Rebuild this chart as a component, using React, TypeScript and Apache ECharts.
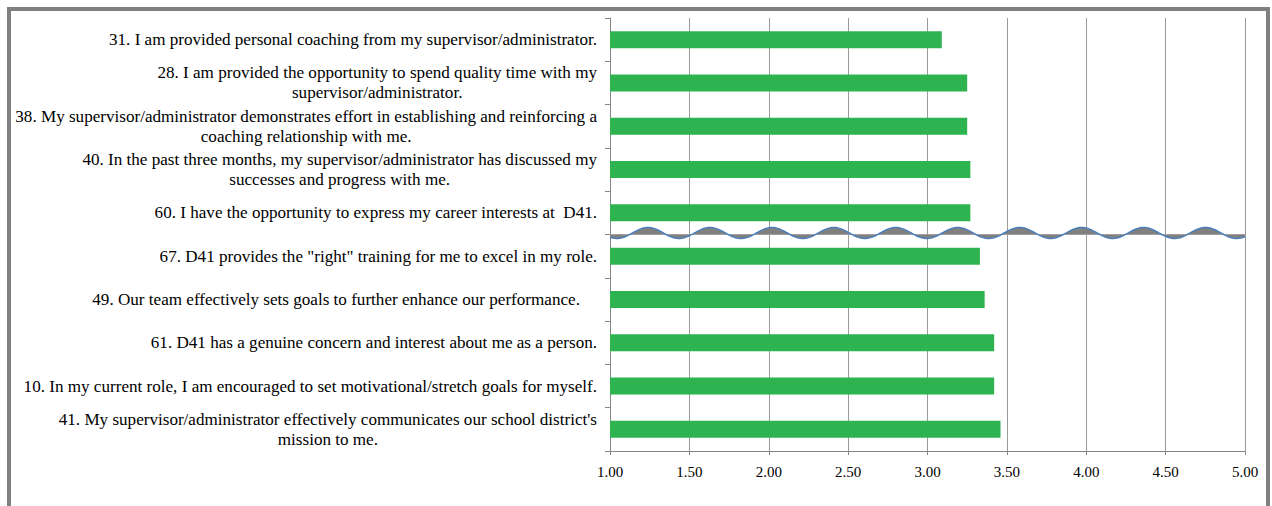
import React, { useEffect, useRef } from "react";
import * as echarts from "echarts";

const categories: string[] = [
  "31. I am provided personal coaching from my supervisor/administrator.",
  "28. I am provided the opportunity to spend quality time with my\nsupervisor/administrator.",
  "38. My supervisor/administrator demonstrates effort in establishing and reinforcing a\ncoaching relationship with me.",
  "40. In the past three months, my supervisor/administrator has discussed my\nsuccesses and progress with me.",
  "60. I have the opportunity to express my career interests at  D41.",
  '67. D41 provides the "right" training for me to excel in my role.',
  "49. Our team effectively sets goals to further enhance our performance.    ",
  "61. D41 has a genuine concern and interest about me as a person.",
  "10. In my current role, I am encouraged to set motivational/stretch goals for myself.",
  "41. My supervisor/administrator effectively communicates our school district's\nmission to me.",
];

const scores: number[] = [3.09, 3.25, 3.25, 3.27, 3.27, 3.33, 3.36, 3.42, 3.42, 3.46];

const xTicks = { min: 1, max: 5, interval: 0.5 };

// position of the decorative wave break (between category index 4 and 5)
const breakAfterIndex = 4;

const FONT = "'Liberation Serif', 'Times New Roman', serif";

export default function App() {
  const ref = useRef<HTMLDivElement>(null);

  useEffect(() => {
    if (!ref.current) return;
    const chart = echarts.init(ref.current, undefined, { renderer: "svg" });

    const option: any = {
      animation: false,
      backgroundColor: "#ffffff",
      graphic: [
        {
          type: "rect",
          shape: { x: 9, y: 9, width: 1259, height: 540 },
          style: { fill: "none", stroke: "#808080", lineWidth: 4 },
          silent: true,
          z: 100,
        },
      ],
      grid: { left: 610, right: 27, top: 18, bottom: 55, containLabel: false },
      xAxis: {
        type: "value",
        min: xTicks.min,
        max: xTicks.max,
        interval: xTicks.interval,
        axisLine: { show: true, lineStyle: { color: "#868686", width: 1 } },
        axisTick: { show: true, length: 4, lineStyle: { color: "#868686" } },
        splitLine: { show: true, lineStyle: { color: "#9a9a9a", width: 1 } },
        axisLabel: {
          formatter: (v: number) => v.toFixed(2),
          color: "#000",
          fontFamily: FONT,
          fontSize: 15,
          margin: 13,
        },
      },
      yAxis: {
        type: "category",
        inverse: true,
        data: categories,
        axisLine: { show: true, lineStyle: { color: "#868686", width: 1 } },
        axisTick: { show: true, length: 5, lineStyle: { color: "#868686" } },
        splitLine: { show: false },
        axisLabel: {
          margin: 13,
          align: "right",
          color: "#000",
          fontFamily: FONT,
          fontSize: 17.1,
          lineHeight: 20,
          formatter: (v: string) =>
            v
              .split("\n")
              .map((l) => "{c|" + l + "}")
              .join("\n"),
          rich: {
            c: {
              align: "center",
              color: "#000",
              fontFamily: FONT,
              fontSize: 17.1,
              lineHeight: 20,
            },
          },
        },
      },
      series: [
        {
          type: "bar",
          data: scores,
          barWidth: 17,
          itemStyle: { color: "#2db350" },
          z: 2,
        },
        {
          type: "custom",
          coordinateSystem: "cartesian2d",
          data: [[xTicks.min, breakAfterIndex]],
          z: 5,
          silent: true,
          renderItem: (params: any, api: any) => {
            const a = api.coord([xTicks.min, breakAfterIndex]);
            const b = api.coord([xTicks.max, breakAfterIndex + 1]);
            const base = (a[1] + b[1]) / 2;
            const x0 = a[0];
            const x1 = b[0];
            const w = x1 - x0;
            const P = w / 10.25;
            const amp = 5.5;
            const center = base - 1.5;
            const pts: number[][] = [];
            const n = 400;
            for (let i = 0; i <= n; i++) {
              const x = x0 + (w * i) / n;
              const y = center + amp * Math.cos((2 * Math.PI * (x - (x0 + 7))) / P);
              pts.push([x, y]);
            }
            const poly = pts.concat([[x1, base], [x0, base]]);
            return {
              type: "group",
              children: [
                {
                  type: "polygon",
                  shape: { points: poly },
                  style: { fill: "#808080", stroke: "none" },
                },
                {
                  type: "line",
                  shape: { x1: x0, y1: base, x2: x1, y2: base },
                  style: { stroke: "#a0a0a0", lineWidth: 1 },
                },
                {
                  type: "polyline",
                  shape: { points: pts },
                  style: { fill: "none", stroke: "#4a7ebb", lineWidth: 1.5 },
                },
              ],
            };
          },
        },
      ],
    };

    chart.setOption(option);
    return () => chart.dispose();
  }, []);

  return (
    <div
      ref={ref}
      style={{ position: "fixed", left: 0, top: 0, width: 1272, height: 506 }}
    />
  );
}
